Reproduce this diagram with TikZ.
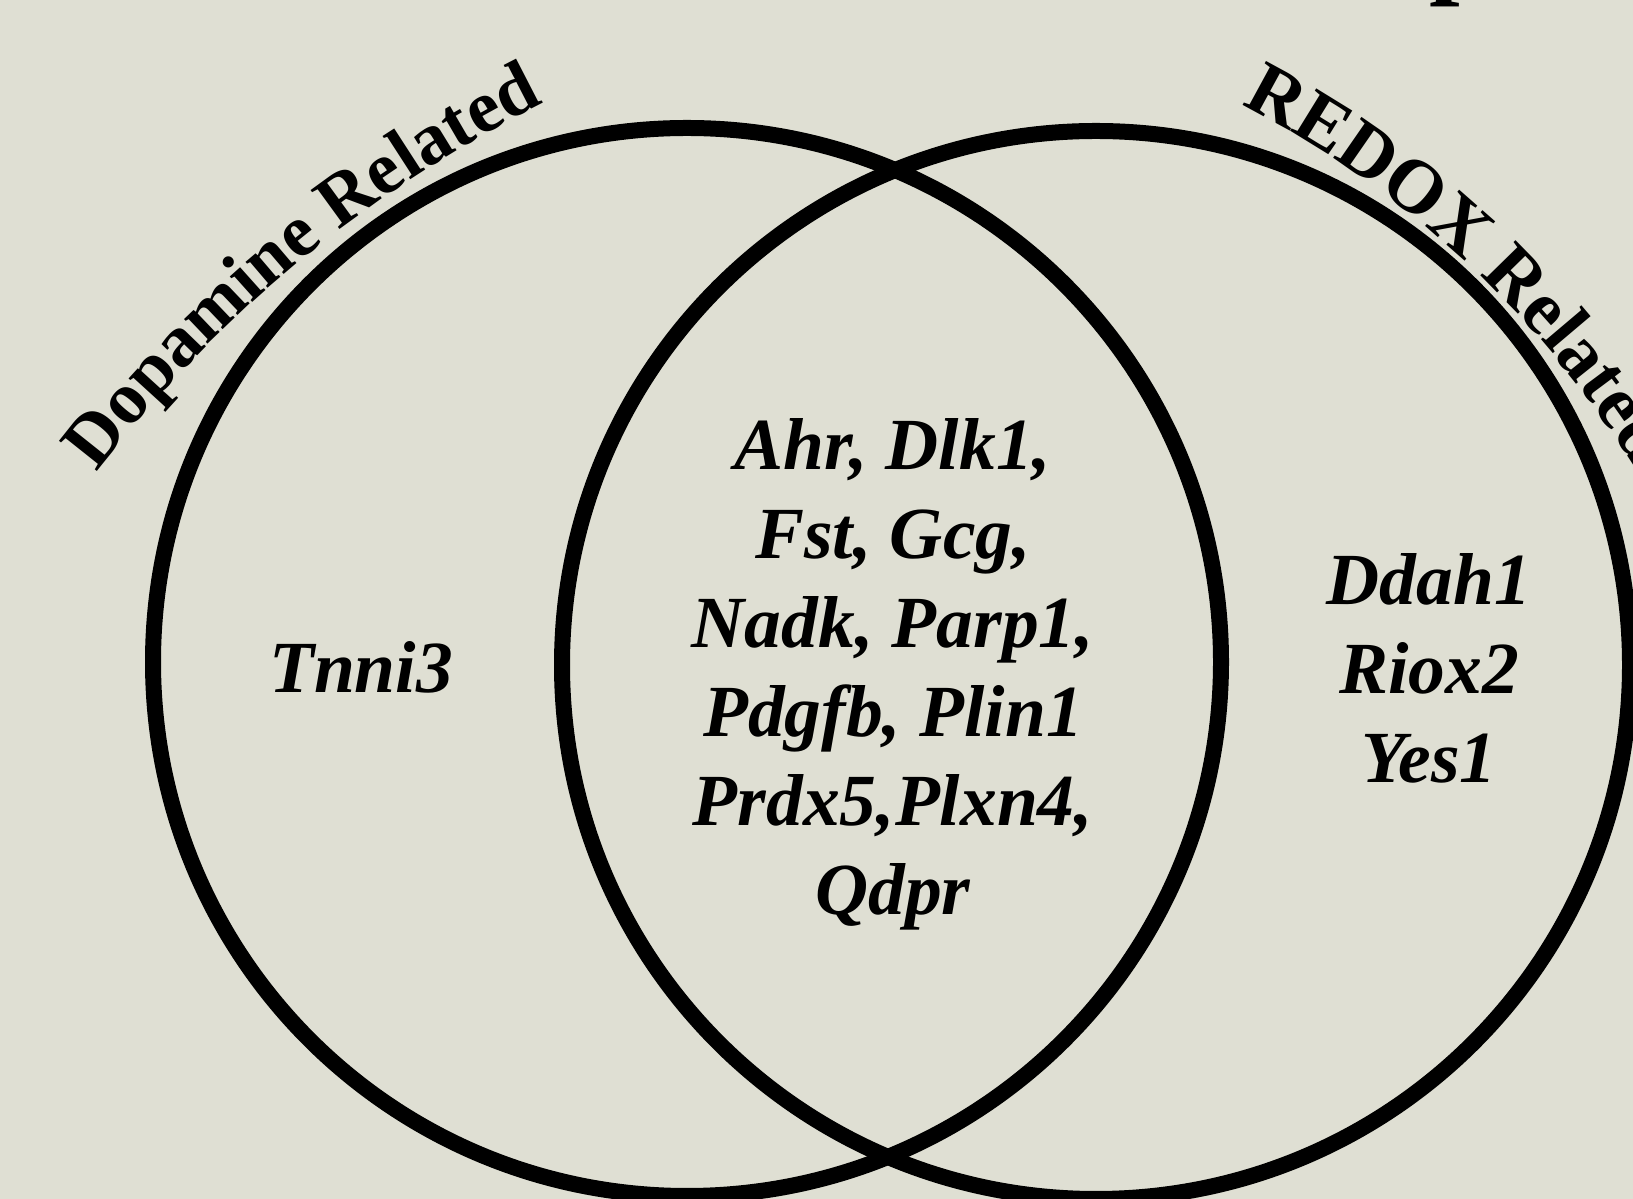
\documentclass[tikz,border=0pt]{standalone}
\usepackage{fontspec}
\setmainfont{Liberation Serif}
\usetikzlibrary{decorations.text}
\definecolor{bg}{RGB}{223,223,211}
\newcommand\dopafont{\fontsize{74}{80}\selectfont\bfseries}
\newcommand\curvefont{\fontsize{76}{80}\selectfont\bfseries}
\begin{document}
\begin{tikzpicture}[x=1pt,y=1pt,
  venn/.style={draw=black, line width=16pt},
  gene/.style={font=\fontsize{73.5}{89}\selectfont\bfseries\itshape, inner sep=0pt, align=center}
  ]
\useasboundingbox (0,0) rectangle (1633,1199);
\fill[bg] (0,0) rectangle (1633,1199);
% circles
\draw[venn] (687,537) circle[radius=534];
\draw[venn] (1096,534) circle[radius=534];
% curved labels
\path[decorate, decoration={text along path, text align=center, text={|\dopafont|Dopamine Related}}]
  (1110,-47) ++(149.5:1275) arc[start angle=149.5, end angle=109.5, radius=1275];
\path[decorate, decoration={text along path, text align=left, text={|\curvefont|REDOX Related}}]
  (792,213) ++(63:989) arc[start angle=63, end angle=10, radius=989];
% gene lists
\node[gene, anchor=base] (tnni) at (361,506) {Tnni3};
\node[gene, anchor=center] (shared) at (893,525) {Ahr, Dlk1,\\Fst, Gcg,\\Nadk, Parp1,\\Pdgfb, Plin1\\Prdx5,Plxn4,\\Qdpr};
\node[gene, anchor=center] (redox) at (1429,531) {Ddah1\\Riox2\\Yes1};
% cut-off letter at top edge
\node[font=\fontsize{110}{110}\selectfont\bfseries, inner sep=0pt, anchor=base west] (p) at (1429,1215) {p};
\end{tikzpicture}
\end{document}
